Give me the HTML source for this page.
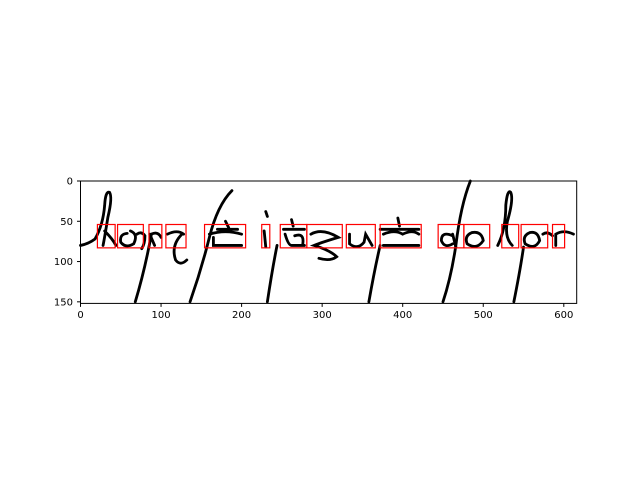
<!DOCTYPE html>
<html><head><meta charset="utf-8"><style>
html,body{margin:0;padding:0;background:#fff;width:640px;height:480px;overflow:hidden}
svg text{font-family:"DejaVu Sans","Liberation Sans",sans-serif;font-size:10px;fill:#000}
</style></head><body>
<svg id="chart" width="640" height="480" viewBox="0 0 640 480" xmlns="http://www.w3.org/2000/svg">
<rect width="640" height="480" fill="#fff"/>
<g id="plot" transform="translate(80.5,181) scale(0.8055)">
 <rect width="616" height="152" fill="#fff"/>
 <g id="ink" fill="none" stroke="#000" stroke-width="3.5" stroke-linecap="round">
  <path d="M0 80 Q10 78 18 72 Q28 55 30 30 Q31 12 36 14 Q40 20 34 45 Q30 70 28 80 M30 62 Q40 72 44 80"/>
  <path d="M58 65 Q48 66 50 76 Q56 84 66 78 Q72 66 62 62 M70 66 Q76 62 80 68 Q80 78 76 84"/>
  <path d="M68 150 Q80 110 88 66"/>
  <path d="M86 66 L92 80 M88 66 Q96 62 100 70"/>
  <path d="M108 66 Q120 60 128 66 M126 66 Q112 80 118 98 Q124 106 132 98"/>
  <path d="M136 150 Q150 110 160 70 Q170 30 188 12"/>
  <path d="M160 66 Q180 60 200 66 M165 70 L165 80 L200 80 M180 50 L184 58 M170 60 L195 60"/>
  <path d="M230 38 L232 44 M228 62 L230 82"/>
  <path d="M232 150 Q238 110 244 80"/>
  <path d="M252 60 L278 60 M262 48 L264 56 M254 66 Q258 80 262 80 L278 80 M266 68 Q278 64 276 78"/>
  <path d="M286 66 Q300 58 320 70 Q300 76 290 80 Q310 86 318 94 Q310 100 296 96"/>
  <path d="M334 66 L334 78 Q344 86 352 76 L354 66 L362 80"/>
  <path d="M358 150 Q365 110 372 80"/>
  <path d="M372 60 L420 60 M394 46 L396 56 M376 66 Q390 60 400 66 Q412 60 420 66 M376 80 L420 80"/>
  <path d="M462 68 Q448 62 448 74 Q452 84 462 78 M462 66 L466 82"/>
  <path d="M450 150 Q460 120 466 80 Q472 30 484 0"/>
  <path d="M486 64 Q476 68 480 78 Q492 86 500 74 Q498 62 486 64"/>
  <path d="M518 80 Q528 60 528 30 Q530 10 534 14 Q538 22 530 50 Q526 70 536 80"/>
  <path d="M538 150 Q546 110 550 82"/>
  <path d="M558 64 Q548 68 552 78 Q564 86 570 74 Q568 62 558 64 M574 66 Q580 62 586 68"/>
  <path d="M590 80 L590 66 Q600 60 612 66"/>
 </g>
 <g id="boxes"></g>
</g>
<rect x="80.5" y="181" width="496.2" height="122.4" fill="none" stroke="#000" stroke-width="1"/>
<g id="axes"></g>
</svg>
<script>
const boxX=[21,46,85,106,154,225,248,281,330,372,444,476,523,547,586];
const boxW=[22,32,16,25,51,10,33,44,36,51,32,32,21,33,15];
const boxY=[54,54,54,54,54,54,54,54,54,54,54,54,54,54,54];
const boxH=[29,29,29,29,29,29,29,29,29,29,29,29,29,29,29];
const xTicks=[0,100,200,300,400,500,600];
const yTicks=[0,50,100,150];
const NS="http://www.w3.org/2000/svg";
const S=0.8055,OX=80.5,OY=181;
const xs=v=>OX+v*S, ys=v=>OY+v*S;
const bg=document.getElementById('boxes');
boxX.forEach((x,i)=>{
 const r=document.createElementNS(NS,'rect');
 r.setAttribute('x',x);r.setAttribute('y',boxY[i]);r.setAttribute('width',boxW[i]);r.setAttribute('height',boxH[i]);
 r.setAttribute('fill','none');r.setAttribute('stroke','#ff0000');r.setAttribute('stroke-width',1.2/S);
 
 
 bg.appendChild(r);
});
const ax=document.getElementById('axes');
xTicks.forEach(t=>{
 const l=document.createElementNS(NS,'line');
 l.setAttribute('x1',xs(t));l.setAttribute('x2',xs(t));l.setAttribute('y1',303.4);l.setAttribute('y2',306.9);l.setAttribute('stroke','#000');
 
 
 ax.appendChild(l);
 const tx=document.createElementNS(NS,'text');
 tx.setAttribute('x',xs(t));tx.setAttribute('y',318);tx.setAttribute('text-anchor','middle');tx.textContent=t;
 
 
 ax.appendChild(tx);
});
yTicks.forEach(t=>{
 const l=document.createElementNS(NS,'line');
 l.setAttribute('x1',77);l.setAttribute('x2',80.5);l.setAttribute('y1',ys(t));l.setAttribute('y2',ys(t));l.setAttribute('stroke','#000');
 
 
 ax.appendChild(l);
 const tx=document.createElementNS(NS,'text');
 tx.setAttribute('x',73);tx.setAttribute('y',ys(t)+3.5);tx.setAttribute('text-anchor','end');tx.textContent=t;
 
 
 ax.appendChild(tx);
});
</script>
</body></html>
